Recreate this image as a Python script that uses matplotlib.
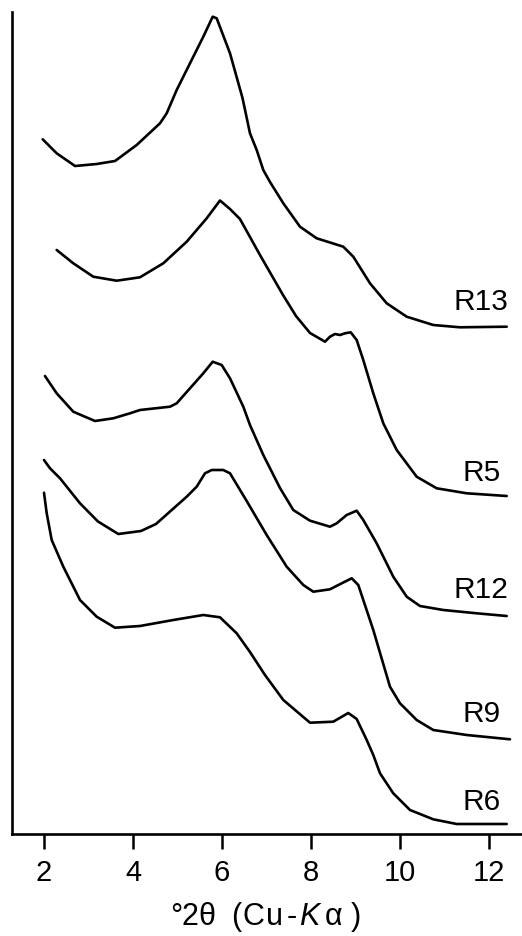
import matplotlib
matplotlib.use("Agg")
import matplotlib.pyplot as plt

plt.rcParams['font.family'] = ['Liberation Sans', 'DejaVu Sans']

# Stacked XRD patterns (°2θ vs. offset intensity, arbitrary units)
r13_x = [1.971, 2.285, 2.697, 3.184, 3.596, 4.083, 4.607, 4.757, 4.982, 5.281, 5.580, 5.791, 5.881,
         6.180, 6.461, 6.629, 6.780, 6.928, 7.079, 7.378, 7.753, 8.128, 8.726, 8.951, 9.326, 9.701,
         10.151, 10.748, 11.348, 12.398]
r13_y = [694.7, 680.7, 668, 670, 673, 689, 710.7, 720.7, 744, 770.7, 797.3, 817.3, 815.7,
         780.7, 736, 700.7, 684, 664, 652, 630.7, 607.3, 595.7, 587.3, 577.3, 550.7, 530.7,
         517.3, 509, 506.7, 507.3]

r5_x = [2.285, 2.658, 3.108, 3.634, 4.157, 4.681, 5.207, 5.656, 5.955, 6.180, 6.404, 6.854, 7.371,
        7.663, 7.978, 8.315, 8.427, 8.539, 8.652, 8.764, 8.892, 9.027, 9.175, 9.400, 9.625, 9.926,
        10.375, 10.825, 11.499, 12.398]
r5_y = [584, 570.7, 557.3, 553.3, 556.7, 570.7, 592.3, 615.7, 633.5, 625, 615, 579, 539,
        518, 501, 492.3, 497.3, 500, 499, 500.7, 501.7, 494, 474, 440.7, 410.7, 384,
        357.3, 345.7, 340.7, 338]

r12_x = [2.022, 2.285, 2.658, 3.146, 3.557, 3.933, 4.157, 4.831, 4.982, 5.281, 5.580, 5.791, 5.993,
         6.180, 6.479, 6.629, 6.928, 7.303, 7.602, 7.978, 8.427, 8.578, 8.802, 9.027, 9.175, 9.476,
         9.849, 10.151, 10.449, 10.973, 11.724, 12.398]
r12_y = [458, 440.7, 422.3, 413, 415.7, 420.7, 424, 427.3, 430.7, 445.7, 460.7, 472.3, 469,
         455.7, 427.3, 409, 379, 346, 324, 313.3, 307.3, 310.7, 319, 323.3, 314, 290.7,
         257.3, 237.3, 228, 224, 220.7, 218]

r9_x = [2.000, 2.135, 2.360, 2.809, 3.213, 3.670, 4.180, 4.517, 4.787, 5.207, 5.431, 5.618, 5.769,
        6.029, 6.180, 6.555, 7.004, 7.454, 7.827, 8.052, 8.427, 8.690, 8.915, 9.063, 9.400, 9.775,
        10.000, 10.375, 10.748, 11.499, 12.472]
r9_y = [374, 365.7, 355.7, 330.7, 312.5, 300, 303, 310, 320.7, 337.3, 347.3, 360.7, 364,
        364, 360.7, 333, 299, 267.3, 249, 242.3, 244.7, 250.7, 255.7, 249, 204, 147.3,
        130.7, 114, 104, 99, 94.7]

r6_x = [2.000, 2.061, 2.173, 2.434, 2.809, 3.184, 3.596, 4.157, 4.906, 5.580, 5.955, 6.330, 6.629,
        6.966, 7.378, 7.978, 8.501, 8.838, 9.027, 9.252, 9.400, 9.551, 9.849, 10.225, 10.748,
        11.274, 12.398]
r6_y = [341.3, 320.7, 294, 267.3, 234, 217.3, 206.3, 208, 214, 219, 216.7, 200.7, 182,
        159, 134, 111.3, 112.3, 121, 115, 94, 79, 60.7, 40.7, 24, 14.7,
        10, 10]

sample_names = ["R13", "R5", "R12", "R9", "R6"]
x_ticks = [2, 4, 6, 8, 10, 12]
x_label_chars = ["°", "2", "θ", "(", "C", "u", "-", "K", "α", ")"]

series = [(r13_x, r13_y), (r5_x, r5_y), (r12_x, r12_y), (r9_x, r9_y), (r6_x, r6_y)]

W, H = 522, 936
fig = plt.figure(figsize=(W / 100, H / 100), dpi=100)
ax = fig.add_axes([12 / W, (H - 834) / H, 510 / W, 822 / H])

for xs, ys in series:
    ax.plot(xs, ys, color="black", lw=1.9, solid_joinstyle="round", solid_capstyle="round")

# sample names sit just above each curve's flat tail
label_baselines = [524.3, 353.3, 235.8, 112.3, 24.3]
for name, yb in zip(sample_names, label_baselines):
    ax.text(11.83, yb, name, ha="center", va="baseline", fontsize=21.5)

ax.set_xlim(1.281, 12.742)
ax.set_ylim(0, 822)
ax.set_yticks([])
ax.set_xticks(x_ticks)
ax.set_xticklabels([str(t) for t in x_ticks])
ax.tick_params(axis="x", direction="out", length=10.8, width=1.8, labelsize=21, pad=7.5)
for side in ("top", "right"):
    ax.spines[side].set_visible(False)
for side in ("left", "bottom"):
    ax.spines[side].set_linewidth(1.9)

# axis title, set glyph by glyph with wide tracking
char_centers = [176, 190, 206.5, 236, 253, 275, 292, 309, 333.5, 356]
for ch, cx in zip(x_label_chars, char_centers):
    style = "italic" if ch == "K" else "normal"
    fig.text(cx / W, 1 - 917 / H, ch, ha="center", va="center", fontsize=22, fontstyle=style)

fig.savefig("out.png", dpi=100, facecolor="white")
